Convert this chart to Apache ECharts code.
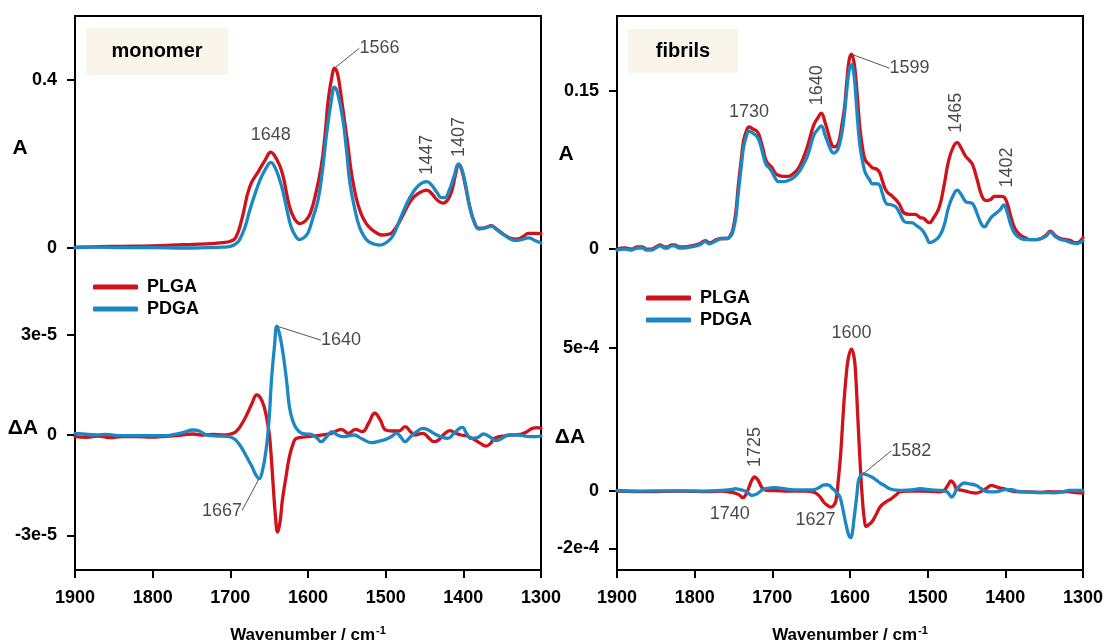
<!DOCTYPE html>
<html>
<head>
<meta charset="utf-8">
<script src="https://cdn.jsdelivr.net/npm/echarts@6/dist/echarts.min.js"></script>
<style>
  html, body { margin: 0; padding: 0; background: #fff; }
  #chart { width: 1106px; height: 642px; }
</style>
</head>
<body>
<div id="chart"></div>
<script>
// x axis (wavenumber, cm-1)
const wnMin = 1300;
const wnMax = 1900;
const seriesNames = ['PLGA', 'PDGA'];

// monomer, absorbance  [wavenumber, A]
const monoPLGA = [[1900,0.002],[1870,0.003],[1840,0.004],[1800,0.005],[1760,0.008],[1730,0.010],[1710,0.013],[1700,0.016],[1693,0.025],[1685,0.07],[1675,0.146],[1663,0.185],[1655,0.21],[1648,0.228],[1640,0.21],[1633,0.178],[1624,0.10],[1617,0.068],[1610,0.058],[1603,0.065],[1597,0.083],[1590,0.13],[1583,0.194],[1578,0.27],[1574,0.352],[1569,0.41],[1566,0.428],[1562,0.415],[1558,0.37],[1555,0.33],[1549,0.25],[1544,0.178],[1538,0.12],[1532,0.083],[1525,0.058],[1518,0.044],[1510,0.034],[1505,0.031],[1498,0.032],[1491,0.038],[1480,0.07],[1468,0.112],[1458,0.13],[1447,0.138],[1440,0.128],[1434,0.115],[1426,0.107],[1420,0.115],[1415,0.135],[1410,0.175],[1406,0.198],[1402,0.185],[1397,0.145],[1392,0.10],[1386,0.062],[1380,0.047],[1372,0.048],[1364,0.053],[1358,0.046],[1350,0.035],[1340,0.024],[1332,0.021],[1324,0.026],[1316,0.035],[1308,0.035],[1300,0.034]];
const monoPDGA = [[1900,0.001],[1870,0.002],[1840,0.001],[1800,0.001],[1760,0.0],[1730,0.001],[1710,0.002],[1700,0.004],[1693,0.01],[1688,0.02],[1681,0.05],[1675,0.09],[1668,0.13],[1661,0.165],[1654,0.19],[1648,0.204],[1642,0.19],[1637,0.165],[1633,0.14],[1627,0.09],[1622,0.052],[1616,0.028],[1611,0.02],[1605,0.025],[1600,0.036],[1594,0.07],[1587,0.115],[1581,0.19],[1576,0.273],[1570,0.35],[1566,0.383],[1562,0.37],[1555,0.305],[1550,0.225],[1546,0.154],[1540,0.095],[1534,0.051],[1528,0.028],[1522,0.015],[1514,0.009],[1507,0.007],[1500,0.012],[1491,0.028],[1480,0.075],[1468,0.123],[1457,0.15],[1447,0.158],[1440,0.148],[1434,0.132],[1428,0.12],[1424,0.12],[1418,0.138],[1412,0.17],[1406,0.2],[1402,0.188],[1397,0.15],[1392,0.10],[1386,0.062],[1380,0.045],[1372,0.048],[1364,0.052],[1358,0.045],[1350,0.034],[1340,0.022],[1334,0.018],[1325,0.02],[1316,0.024],[1308,0.018],[1300,0.012]];

// monomer, difference spectra  [wavenumber, dA in units of 1e-5]
const monoDiffUnit = 1e-5;
const monoPLGAdiff = [[1900,-0.05],[1885,-0.07],[1870,-0.03],[1854,-0.08],[1840,-0.05],[1820,-0.05],[1800,-0.06],[1790,-0.05],[1770,-0.02],[1748,0.03],[1735,0.0],[1721,0.02],[1710,0.0],[1700,0.03],[1693,0.1],[1686,0.3],[1679,0.6],[1672,0.95],[1666,1.2],[1661,1.1],[1656,0.8],[1652,0.35],[1649,-0.15],[1645,-1.45],[1642,-2.4],[1639,-2.9],[1636,-2.6],[1633,-1.95],[1628,-1.2],[1624,-0.65],[1619,-0.25],[1615,-0.1],[1601,-0.05],[1583,0.0],[1570,0.05],[1557,0.17],[1548,0.05],[1539,0.17],[1530,0.1],[1522,0.35],[1514,0.65],[1507,0.45],[1500,0.15],[1491,0.12],[1483,0.12],[1475,0.25],[1468,0.1],[1463,0.0],[1452,0.05],[1444,-0.1],[1438,-0.2],[1432,-0.15],[1426,0.0],[1417,0.13],[1410,0.05],[1403,0.0],[1395,-0.03],[1385,-0.15],[1378,-0.25],[1371,-0.33],[1365,-0.25],[1360,-0.1],[1344,-0.02],[1325,0.03],[1318,0.1],[1311,0.2],[1305,0.22],[1300,0.2]];
const monoPDGAdiff = [[1900,0.05],[1890,0.03],[1872,0.0],[1860,0.02],[1840,-0.02],[1800,-0.02],[1785,-0.02],[1770,0.03],[1760,0.08],[1748,0.15],[1740,0.12],[1730,0.0],[1715,-0.03],[1702,-0.05],[1696,-0.1],[1691,-0.2],[1685,-0.4],[1679,-0.65],[1672,-0.95],[1667,-1.2],[1663,-1.3],[1659,-1.1],[1654,-0.45],[1650,0.5],[1647,1.65],[1643,2.7],[1640,3.25],[1636,2.95],[1631,2.25],[1627,1.5],[1624,0.85],[1620,0.45],[1615,0.2],[1608,0.05],[1601,0.03],[1594,0.0],[1588,-0.1],[1583,-0.2],[1576,-0.05],[1569,0.1],[1562,0.0],[1555,-0.05],[1541,0.0],[1530,-0.12],[1518,-0.23],[1508,-0.18],[1500,-0.13],[1493,-0.05],[1486,0.05],[1480,-0.08],[1475,-0.2],[1468,-0.05],[1460,0.1],[1452,0.2],[1445,0.15],[1438,0.05],[1429,-0.05],[1420,-0.1],[1412,0.05],[1405,0.2],[1401,0.23],[1396,0.05],[1390,-0.1],[1382,-0.08],[1374,0.03],[1366,-0.05],[1358,-0.17],[1350,-0.1],[1342,0.0],[1330,0.0],[1321,-0.03],[1310,-0.05],[1300,-0.03]];

// fibrils, absorbance  [wavenumber, A]
const fibPLGA = [[1900,0.0],[1890,0.001],[1881,0.0],[1874,0.002],[1867,0.002],[1862,0.0],[1856,0.0],[1850,0.002],[1844,0.004],[1839,0.002],[1835,0.002],[1830,0.004],[1826,0.004],[1820,0.002],[1815,0.002],[1805,0.003],[1794,0.005],[1786,0.008],[1781,0.006],[1772,0.009],[1765,0.010],[1758,0.010],[1754,0.013],[1751,0.018],[1747,0.035],[1744,0.059],[1740,0.085],[1737,0.103],[1733,0.113],[1730,0.116],[1725,0.114],[1720,0.112],[1717,0.108],[1712,0.095],[1708,0.084],[1704,0.08],[1701,0.078],[1696,0.072],[1692,0.07],[1686,0.069],[1680,0.069],[1674,0.071],[1667,0.076],[1661,0.085],[1655,0.097],[1650,0.11],[1646,0.119],[1641,0.125],[1637,0.129],[1632,0.12],[1628,0.11],[1624,0.1],[1621,0.097],[1617,0.098],[1614,0.103],[1610,0.12],[1607,0.135],[1604,0.16],[1601,0.18],[1598,0.185],[1595,0.178],[1593,0.166],[1590,0.14],[1587,0.113],[1583,0.092],[1580,0.084],[1575,0.08],[1571,0.077],[1566,0.076],[1562,0.073],[1558,0.064],[1553,0.055],[1547,0.051],[1541,0.047],[1536,0.042],[1530,0.034],[1523,0.033],[1516,0.033],[1510,0.03],[1505,0.029],[1498,0.025],[1492,0.03],[1485,0.04],[1479,0.06],[1473,0.084],[1467,0.097],[1462,0.101],[1457,0.096],[1451,0.088],[1446,0.084],[1442,0.08],[1436,0.065],[1430,0.05],[1425,0.046],[1419,0.047],[1414,0.05],[1410,0.05],[1405,0.05],[1401,0.049],[1397,0.042],[1393,0.031],[1388,0.02],[1382,0.014],[1375,0.011],[1368,0.009],[1361,0.009],[1354,0.01],[1348,0.013],[1342,0.017],[1336,0.013],[1329,0.01],[1322,0.009],[1316,0.008],[1310,0.006],[1307,0.006],[1303,0.008],[1300,0.011]];
const fibPDGA = [[1900,-0.001],[1890,0.0],[1881,-0.001],[1874,0.001],[1867,0.001],[1862,-0.001],[1856,-0.001],[1850,0.001],[1844,0.003],[1839,0.001],[1835,0.001],[1830,0.003],[1826,0.003],[1820,0.001],[1815,0.001],[1805,0.002],[1794,0.004],[1786,0.007],[1781,0.005],[1772,0.008],[1765,0.010],[1758,0.010],[1754,0.012],[1751,0.016],[1747,0.03],[1744,0.052],[1740,0.078],[1737,0.097],[1733,0.108],[1730,0.112],[1725,0.11],[1720,0.107],[1717,0.103],[1712,0.09],[1708,0.08],[1704,0.077],[1701,0.074],[1696,0.067],[1692,0.064],[1686,0.064],[1680,0.065],[1674,0.067],[1667,0.072],[1661,0.079],[1655,0.088],[1650,0.1],[1646,0.109],[1641,0.114],[1637,0.117],[1632,0.108],[1628,0.1],[1624,0.093],[1621,0.091],[1617,0.093],[1614,0.098],[1610,0.112],[1607,0.129],[1604,0.152],[1601,0.17],[1598,0.175],[1595,0.166],[1593,0.15],[1590,0.12],[1587,0.097],[1583,0.08],[1580,0.072],[1575,0.066],[1571,0.062],[1566,0.062],[1562,0.061],[1558,0.052],[1553,0.043],[1547,0.042],[1541,0.04],[1536,0.034],[1530,0.026],[1525,0.025],[1521,0.025],[1514,0.022],[1507,0.018],[1502,0.012],[1497,0.006],[1491,0.008],[1485,0.012],[1479,0.022],[1473,0.04],[1467,0.051],[1462,0.056],[1457,0.052],[1451,0.045],[1446,0.044],[1442,0.043],[1436,0.033],[1431,0.024],[1427,0.021],[1422,0.026],[1417,0.031],[1412,0.034],[1406,0.038],[1402,0.042],[1398,0.036],[1393,0.023],[1388,0.015],[1382,0.011],[1375,0.009],[1366,0.009],[1360,0.009],[1354,0.01],[1348,0.012],[1342,0.016],[1336,0.012],[1329,0.009],[1322,0.008],[1315,0.006],[1308,0.005],[1300,0.008]];

// fibrils, difference spectra  [wavenumber, dA in units of 1e-4]
const fibDiffUnit = 1e-4;
const fibPLGAdiff = [[1900,0.0],[1860,-0.02],[1820,0.0],[1780,-0.02],[1765,0.0],[1757,-0.03],[1748,-0.07],[1742,-0.15],[1738,-0.23],[1734,-0.12],[1730,0.14],[1726,0.4],[1723,0.49],[1719,0.4],[1715,0.2],[1712,0.08],[1705,0.02],[1698,0.02],[1680,0.0],[1657,0.0],[1648,-0.03],[1643,-0.09],[1638,-0.22],[1634,-0.38],[1629,-0.5],[1625,-0.56],[1621,-0.5],[1618,-0.32],[1615,0.4],[1612,1.3],[1608,3.0],[1605,4.0],[1602,4.65],[1598,4.94],[1595,4.7],[1593,4.2],[1590,2.6],[1587,1.0],[1584,-0.3],[1581,-1.1],[1579,-1.23],[1575,-1.15],[1572,-1.08],[1567,-0.85],[1561,-0.55],[1554,-0.38],[1547,-0.27],[1540,-0.12],[1536,-0.03],[1524,0.0],[1506,0.0],[1490,-0.02],[1483,-0.03],[1478,0.05],[1474,0.2],[1470,0.35],[1466,0.25],[1463,0.08],[1457,0.03],[1451,0.0],[1444,-0.05],[1438,-0.07],[1430,0.0],[1424,0.1],[1418,0.2],[1412,0.15],[1406,0.1],[1401,0.08],[1395,0.02],[1382,-0.03],[1370,-0.03],[1355,-0.05],[1345,-0.02],[1332,-0.03],[1320,-0.02],[1310,-0.05],[1300,-0.07]];
const fibPDGAdiff = [[1900,0.02],[1870,0.0],[1830,0.01],[1790,0.0],[1760,0.03],[1752,0.06],[1748,0.08],[1742,0.05],[1737,0.02],[1732,-0.05],[1726,-0.15],[1720,-0.1],[1715,0.0],[1710,0.08],[1704,0.1],[1698,0.12],[1690,0.1],[1680,0.06],[1666,0.04],[1650,0.04],[1645,0.06],[1640,0.12],[1635,0.2],[1631,0.22],[1627,0.2],[1623,0.1],[1619,0.0],[1614,-0.15],[1611,-0.4],[1608,-0.79],[1604,-1.3],[1601,-1.58],[1599,-1.62],[1597,-1.45],[1595,-1.0],[1593,-0.56],[1591,-0.1],[1589,0.37],[1586,0.55],[1583,0.6],[1578,0.56],[1572,0.49],[1567,0.4],[1561,0.28],[1555,0.18],[1549,0.08],[1540,0.03],[1533,0.02],[1520,0.04],[1510,0.08],[1495,0.04],[1483,0.02],[1478,0.0],[1475,-0.03],[1472,-0.12],[1469,-0.21],[1466,-0.12],[1463,0.05],[1458,0.2],[1453,0.28],[1446,0.25],[1438,0.2],[1432,0.1],[1426,0.0],[1418,-0.03],[1410,-0.02],[1400,0.05],[1392,0.05],[1385,0.0],[1374,-0.03],[1360,-0.05],[1350,-0.05],[1337,-0.06],[1325,-0.02],[1318,0.02],[1310,0.02],[1300,0.02]];

// y tick values
const monoAbsTicks = [0, 0.4];
const monoDiffTicks = [-3e-5, 0, 3e-5];
const fibAbsTicks = [0, 0.15];
const fibDiffTicks = [-2e-4, 0, 5e-4];

// peak annotations  [wavenumber, value, label]
const monoAbsPeaks = [[1648, 0.228, '1648'], [1566, 0.428, '1566'], [1447, 0.158, '1447'], [1406, 0.2, '1407']];
const monoDiffPeaks = [[1640, 3.25, '1640'], [1663, -1.3, '1667']];
const fibAbsPeaks = [[1730, 0.116, '1730'], [1637, 0.129, '1640'], [1598, 0.185, '1599'], [1462, 0.101, '1465'], [1401, 0.049, '1402']];
const fibDiffPeaks = [[1598, 4.94, '1600'], [1723, 0.49, '1725'], [1738, -0.23, '1740'], [1625, -0.56, '1627'], [1583, 0.6, '1582']];

// label placement (screen pixels) for the annotations above
const monoAbsLayout = [{ dx: 0, dy: -17 }, { dx: 45, dy: -20, line: true }, { dx: 0, dy: -27, rot: 90 }, { dx: 0, dy: -27, rot: 90 }];
const monoDiffLayout = [{ dx: 64, dy: 14, line: true }, { dx: -37, dy: 32, line: true }];
const fibAbsLayout = [{ dx: 0, dy: -15 }, { dx: -4, dy: -28, rot: 90 }, { dx: 58, dy: 14, line: true }, { dx: -1, dy: -30, rot: 90 }, { dx: 2, dy: -30, rot: 90 }];
const fibDiffLayout = [{ dx: 0, dy: -16 }, { dx: 1, dy: -30, rot: 90 }, { dx: -13, dy: 16 }, { dx: -15, dy: 13 }, { dx: 48, dy: -23, line: true }];

const FONT = '"Liberation Sans", Arial, sans-serif';
const RED = '#d0121b';
const BLUE = '#1b88c3';

const scaled = (arr, unit) => arr.map(p => [p[0], p[1] * unit]);
const fmtAbs = v => (v === 0 ? '0' : String(v));
const fmtExp = v => (v === 0 ? '0' : v.toExponential(0));

const chart = echarts.init(document.getElementById('chart'));

function xAxis (gridIndex) {
  return {
    type: 'value',
    gridIndex,
    min: wnMin,
    max: wnMax,
    interval: 100,
    inverse: true,
    axisLine: { show: true, onZero: false, lineStyle: { color: '#000', width: 2 } },
    axisTick: { show: true, length: 8, lineStyle: { color: '#000', width: 2 } },
    axisLabel: { formatter: v => String(v), color: '#000', fontSize: 18, fontWeight: 'bold', fontFamily: FONT, margin: 19 },
    splitLine: { show: false },
    name: 'Wavenumber / cm{sup|-1}',
    nameLocation: 'middle',
    nameGap: 55,
    nameTextStyle: {
      color: '#000',
      fontSize: 17,
      fontWeight: 'bold',
      fontFamily: FONT,
      rich: { sup: { fontSize: 11, fontWeight: 'bold', fontFamily: FONT, color: '#000', padding: [0, 0, 9, 1] } }
    }
  };
}

function yAxis (gridIndex, min, max, ticks, fmt) {
  return {
    type: 'value',
    gridIndex,
    position: 'left',
    min,
    max,
    axisLine: { show: true, onZero: false, lineStyle: { color: '#000', width: 2 } },
    axisTick: { show: true, length: 8, customValues: ticks, lineStyle: { color: '#000', width: 2 } },
    axisLabel: { customValues: ticks, formatter: fmt, color: '#000', fontSize: 18, fontWeight: 'bold', fontFamily: FONT, margin: 18 },
    splitLine: { show: false }
  };
}

function lineSeries (name, data, axisIndex, yIndex, color) {
  return {
    name,
    type: 'line',
    xAxisIndex: axisIndex,
    yAxisIndex: yIndex,
    data,
    showSymbol: false,
    smooth: 0.45,
    silent: true,
    z: name === 'PDGA' ? 3 : 2,
    lineStyle: { width: 3.3, color, cap: 'round', join: 'round' },
    itemStyle: { color }
  };
}

// rotated labels turn round their anchor, so the shift is given in the label's own frame
function labelShift (l) {
  if (l.rot === 90) return { dx: -l.dy, dy: l.dx };
  return { dx: l.dx, dy: l.dy };
}

function peakSeries (id, peaks, unit, axisIndex, yIndex, layout) {
  return {
    name: id,
    type: 'scatter',
    xAxisIndex: axisIndex,
    yAxisIndex: yIndex,
    symbolSize: 1,
    silent: true,
    z: 6,
    itemStyle: { color: 'transparent' },
    data: peaks.map((p, i) => ({
      value: [p[0], p[1] * unit],
      name: p[2],
      label: { rotate: layout[i].rot || 0 },
      labelLine: { show: !!layout[i].line }
    })),
    label: { show: true, position: 'inside', formatter: '{b}', color: '#1a1a1a', fontSize: 18, fontFamily: FONT },
    labelLine: { lineStyle: { color: '#555', width: 1 } },
    labelLayout: p => labelShift(layout[p.dataIndex])
  };
}

function legend (left, top) {
  return {
    data: seriesNames,
    orient: 'vertical',
    left,
    top,
    icon: 'roundRect',
    itemWidth: 45,
    itemHeight: 5,
    itemGap: 2,
    textStyle: { color: '#000', fontSize: 18, fontWeight: 'bold', fontFamily: FONT, lineHeight: 20, padding: [0, 0, 0, 4] }
  };
}

function panelTag (x, y, w, h, text) {
  return {
    type: 'group',
    children: [
      { type: 'rect', shape: { x, y, width: w, height: h }, style: { fill: '#faf5ea' } },
      { type: 'text', x: x + w / 2, y: y + h / 2, style: { text, fontSize: 20, fontWeight: 'bold', fontFamily: FONT, fill: '#000', align: 'center', verticalAlign: 'middle' } }
    ]
  };
}

function axisTitle (x, y, text) {
  return { type: 'text', x, y, style: { text, fontSize: 21, fontWeight: 'bold', fontFamily: FONT, fill: '#000', align: 'center', verticalAlign: 'middle' } };
}

const gridBase = { top: 16, width: 466, height: 554, show: true, borderColor: '#000', borderWidth: 2, backgroundColor: 'transparent', containLabel: false, outerBoundsMode: 'none' };

chart.setOption({
  animation: false,
  backgroundColor: '#fff',
  grid: [
    Object.assign({ left: 75 }, gridBase),
    Object.assign({ left: 617 }, gridBase)
  ],
  legend: [legend(88, 272), legend(641, 283)],
  xAxis: [xAxis(0), xAxis(1)],
  yAxis: [
    yAxis(0, -0.7667, 0.5524, monoAbsTicks, fmtAbs),
    yAxis(0, -4.03e-5, 1.251e-4, monoDiffTicks, fmtExp),
    yAxis(1, -0.3048, 0.2213, fibAbsTicks, fmtAbs),
    yAxis(1, -2.75e-4, 1.655e-3, fibDiffTicks, fmtExp)
  ],
  graphic: [
    panelTag(86, 28, 142, 47, 'monomer'),
    panelTag(628, 29, 110, 44, 'fibrils'),
    axisTitle(20, 148, 'A'),
    axisTitle(23, 428, 'ΔA'),
    axisTitle(566, 154, 'A'),
    axisTitle(570, 437, 'ΔA')
  ],
  series: [
    lineSeries('PLGA', monoPLGA, 0, 0, RED),
    lineSeries('PDGA', monoPDGA, 0, 0, BLUE),
    lineSeries('PLGA', scaled(monoPLGAdiff, monoDiffUnit), 0, 1, RED),
    lineSeries('PDGA', scaled(monoPDGAdiff, monoDiffUnit), 0, 1, BLUE),
    lineSeries('PLGA', fibPLGA, 1, 2, RED),
    lineSeries('PDGA', fibPDGA, 1, 2, BLUE),
    lineSeries('PLGA', scaled(fibPLGAdiff, fibDiffUnit), 1, 3, RED),
    lineSeries('PDGA', scaled(fibPDGAdiff, fibDiffUnit), 1, 3, BLUE),
    peakSeries('peaks-mono-A', monoAbsPeaks, 1, 0, 0, monoAbsLayout),
    peakSeries('peaks-mono-dA', monoDiffPeaks, monoDiffUnit, 0, 1, monoDiffLayout),
    peakSeries('peaks-fib-A', fibAbsPeaks, 1, 1, 2, fibAbsLayout),
    peakSeries('peaks-fib-dA', fibDiffPeaks, fibDiffUnit, 1, 3, fibDiffLayout)
  ]
});

window.addEventListener('resize', function () {
  chart.resize();
});
</script>
</body>
</html>
